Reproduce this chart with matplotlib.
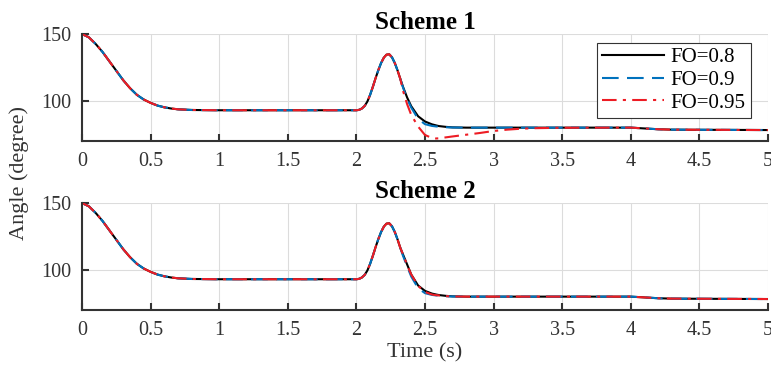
import numpy as np
import matplotlib
matplotlib.use("Agg")
import matplotlib.pyplot as plt

plt.rcParams["font.family"] = ["Liberation Serif", "DejaVu Serif"]

# shared part of every curve (all six overlap here)
t_head = [0.0, 0.05, 0.1, 0.15, 0.2, 0.25, 0.3, 0.35, 0.4, 0.45, 0.5, 0.55,
          0.6, 0.65, 0.7, 0.8, 1.0, 1.5, 2.0, 2.02, 2.04, 2.06, 2.08, 2.10,
          2.12, 2.14, 2.16, 2.18, 2.20, 2.22, 2.24, 2.26, 2.28, 2.30, 2.32]
y_head = [150.0, 147.5, 142.5, 136.5, 129.5, 122.5, 115.5, 109.5, 104.5, 101.0,
          98.5, 96.5, 95.2, 94.3, 93.7, 93.2, 93.0, 93.0, 93.0, 93.3, 94.3, 96.2,
          99.5, 104.5, 110.5, 117.0, 123.0, 128.3, 132.3, 134.6, 134.8, 132.5,
          128.3, 122.8, 116.5]

# tails after the peak
t_tail = [2.34, 2.37, 2.40, 2.45, 2.5, 2.55, 2.58, 2.6, 2.65, 2.7, 2.8, 2.9,
          3.0, 3.1, 3.2, 3.3, 3.5, 4.0, 4.1, 4.2, 4.3, 4.5, 5.0]

s1_fo08 = [110.5, 102.5, 96.0, 88.5, 84.6, 82.5, 81.7, 81.2, 80.6, 80.2, 80.0,
           80.0, 80.0, 80.0, 80.0, 80.0, 80.0, 80.0, 79.4, 78.8, 78.5, 78.4, 78.2]
s1_fo09 = [110.0, 101.5, 95.0, 86.5, 82.6, 81.3, 80.9, 80.7, 80.3, 80.1, 80.0,
           80.0, 80.0, 80.0, 80.0, 80.0, 80.0, 80.0, 79.4, 78.8, 78.5, 78.4, 78.2]
s1_fo095 = [107.5, 97.5, 89.5, 80.8, 74.5, 72.3, 71.9, 72.0, 72.7, 73.4, 74.7,
            76.0, 77.5, 78.5, 79.2, 79.6, 79.9, 80.0, 79.4, 78.8, 78.5, 78.4, 78.2]

s2_fo08 = [111.5, 104.0, 96.5, 88.3, 84.3, 82.3, 81.6, 81.2, 80.6, 80.2, 80.0,
           80.0, 80.0, 80.0, 80.0, 80.0, 80.0, 80.0, 79.4, 78.8, 78.5, 78.4, 78.2]
s2_fo09 = [110.5, 102.5, 95.0, 86.3, 82.6, 81.3, 80.9, 80.7, 80.3, 80.1, 80.0,
           80.0, 80.0, 80.0, 80.0, 80.0, 80.0, 80.0, 79.4, 78.8, 78.5, 78.4, 78.2]
s2_fo095 = [111.5, 103.5, 96.5, 88.0, 83.5, 81.6, 81.1, 80.9, 80.4, 80.1, 80.0,
            80.0, 80.0, 80.0, 80.0, 80.0, 80.0, 80.0, 79.4, 78.8, 78.5, 78.4, 78.2]

labels = ["FO=0.8", "FO=0.9", "FO=0.95"]
titles = ["Scheme 1", "Scheme 2"]
x_ticks = [0, 0.5, 1, 1.5, 2, 2.5, 3, 3.5, 4, 4.5, 5]
x_ticklabels = ["0", "0.5", "1", "1.5", "2", "2.5", "3", "3.5", "4", "4.5", "5"]
y_ticks = [100, 150]

colors = ["black", (0.0, 0.447, 0.741), (0.93, 0.11, 0.14)]
styles = ["-", (0, (8, 4)), (0, (7, 3, 1.5, 3))]

t = np.array(t_head + t_tail)
schemes = [[y_head + s1_fo08, y_head + s1_fo09, y_head + s1_fo095],
           [y_head + s2_fo08, y_head + s2_fo09, y_head + s2_fo095]]

fig = plt.figure(figsize=(7.71, 3.68), dpi=100)
ax_pos = [[0.1064, 0.6168, 0.8896, 0.2908], [0.1064, 0.1576, 0.8896, 0.2908]]
gray = "#333333"

for i in range(2):
    ax = fig.add_axes(ax_pos[i])
    for y, c, ls, lab in zip(schemes[i], colors, styles, labels):
        ax.plot(t, y, color=c, linestyle=ls, linewidth=1.5, label=lab)
    ax.set_xlim(0, 5)
    ax.set_ylim(70, 150)
    ax.set_xticks(x_ticks)
    ax.set_xticklabels(x_ticklabels)
    ax.set_yticks(y_ticks)
    ax.grid(True, color="#dcdcdc", linewidth=0.8)
    ax.set_axisbelow(True)
    for side in ["top", "right"]:
        ax.spines[side].set_visible(False)
    for side in ["left", "bottom"]:
        ax.spines[side].set_color(gray)
        ax.spines[side].set_linewidth(1.5)
    ax.tick_params(direction="in", length=5, width=1.5, colors=gray,
                   labelsize=14.5, pad=8)
    ax.set_title(titles[i], fontsize=18, fontweight="bold", pad=2)
    if i == 0:
        leg = ax.legend(loc="upper right", bbox_to_anchor=(0.975, 0.92),
                        fontsize=15, fancybox=False, framealpha=1,
                        edgecolor=gray, handlelength=3.0, borderpad=0.25,
                        labelspacing=0.15, handletextpad=0.3, borderaxespad=0)
        leg.get_frame().set_linewidth(0.8)
    else:
        ax.set_xlabel("Time (s)", fontsize=16, color=gray, labelpad=2)

fig.text(0.025, 0.53, "Angle (degree)", rotation=90, fontsize=16,
         color=gray, ha="center", va="center")

fig.savefig("out.png", dpi=100)
